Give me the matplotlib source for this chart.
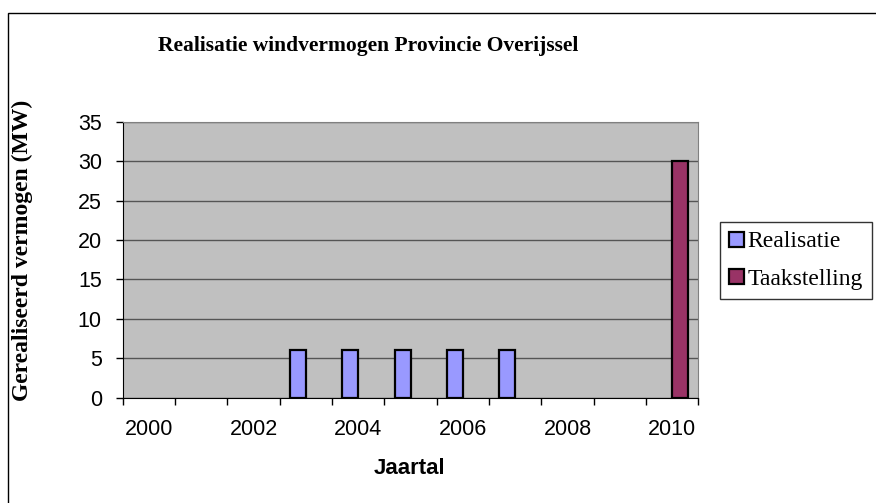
import numpy as np
import matplotlib
matplotlib.use("Agg")
import matplotlib.pyplot as plt
from matplotlib.patches import Rectangle

# Gegevens
jaren = [2000, 2001, 2002, 2003, 2004, 2005, 2006, 2007, 2008, 2009, 2010]
realisatie = [np.nan, np.nan, np.nan, 6, 6, 6, 6, 6, np.nan, np.nan, np.nan]
taakstelling = [np.nan] * 10 + [30]
jaar_labels = [2000, 2002, 2004, 2006, 2008, 2010]

fig = plt.figure(figsize=(8.76, 5.03), dpi=100)

# Kader rond de grafiek
fig.patches.append(Rectangle((8 / 876, -0.1), 1.1, (503 - 13) / 503 + 0.1,
                             transform=fig.transFigure, fill=False,
                             edgecolor='black', linewidth=1.0))

ax = fig.add_axes([122.7 / 876, 1 - 397.7 / 503, 575.6 / 876, 276 / 503])
ax.set_facecolor('#C0C0C0')

idx = np.arange(len(jaren))
b = 0.3
ax.bar(idx - b / 2, realisatie, width=b, color='#9999FF', edgecolor='black',
       linewidth=1.6, label='Realisatie', zorder=3)
ax.bar(idx + b / 2, taakstelling, width=b, color='#993366', edgecolor='black',
       linewidth=1.6, label='Taakstelling', zorder=3)

ax.set_xlim(-0.5, len(jaren) - 0.5)
ax.set_ylim(0, 35)
ax.set_yticks(range(0, 36, 5))
ax.yaxis.grid(True, color='#555555', linewidth=1.0, zorder=1)

# Streepjes tussen de categorieën, labels in het midden
ax.set_xticks(np.arange(-0.5, len(jaren)), labels=[''] * (len(jaren) + 1))
ax.set_xticks([jaren.index(j) for j in jaar_labels],
              labels=[str(j) for j in jaar_labels], minor=True)
ax.tick_params(axis='x', which='major', direction='out', length=5, width=1)
ax.tick_params(axis='x', which='minor', length=0, pad=15, labelsize=15.5,
               labelfontfamily='Liberation Sans')
ax.tick_params(axis='y', direction='out', length=5, width=1, pad=10,
               labelsize=15.5, labelfontfamily='Liberation Sans')

for s in ['top', 'right']:
    ax.spines[s].set_color('#808080')
for s in ['left', 'bottom']:
    ax.spines[s].set_color('black')

fig.text(368 / 876, 1 - 46 / 503, 'Realisatie windvermogen Provincie Overijssel',
         ha='center', va='center', fontsize=15.5, fontweight='bold',
         family='Liberation Serif')
fig.text(22 / 876, 1 - 250 / 503, 'Gerealiseerd vermogen (MW)', rotation=90,
         ha='center', va='center', fontsize=17, fontweight='bold',
         family='Liberation Serif')
fig.text(410 / 876, 1 - 468 / 503, 'Jaartal', ha='center', va='center',
         fontsize=16, fontweight='bold', family='Liberation Sans')

leg = fig.legend(loc='upper left', bbox_to_anchor=(720 / 876, 1 - 222 / 503),
                 frameon=True, fancybox=False, edgecolor='black',
                 prop={'family': 'Liberation Serif', 'size': 17},
                 handlelength=0.6, handleheight=0.6, handletextpad=0.15,
                 borderpad=0.4, labelspacing=0.7, borderaxespad=0)
leg.get_frame().set_linewidth(1.0)

fig.savefig('out.png', dpi=100)
